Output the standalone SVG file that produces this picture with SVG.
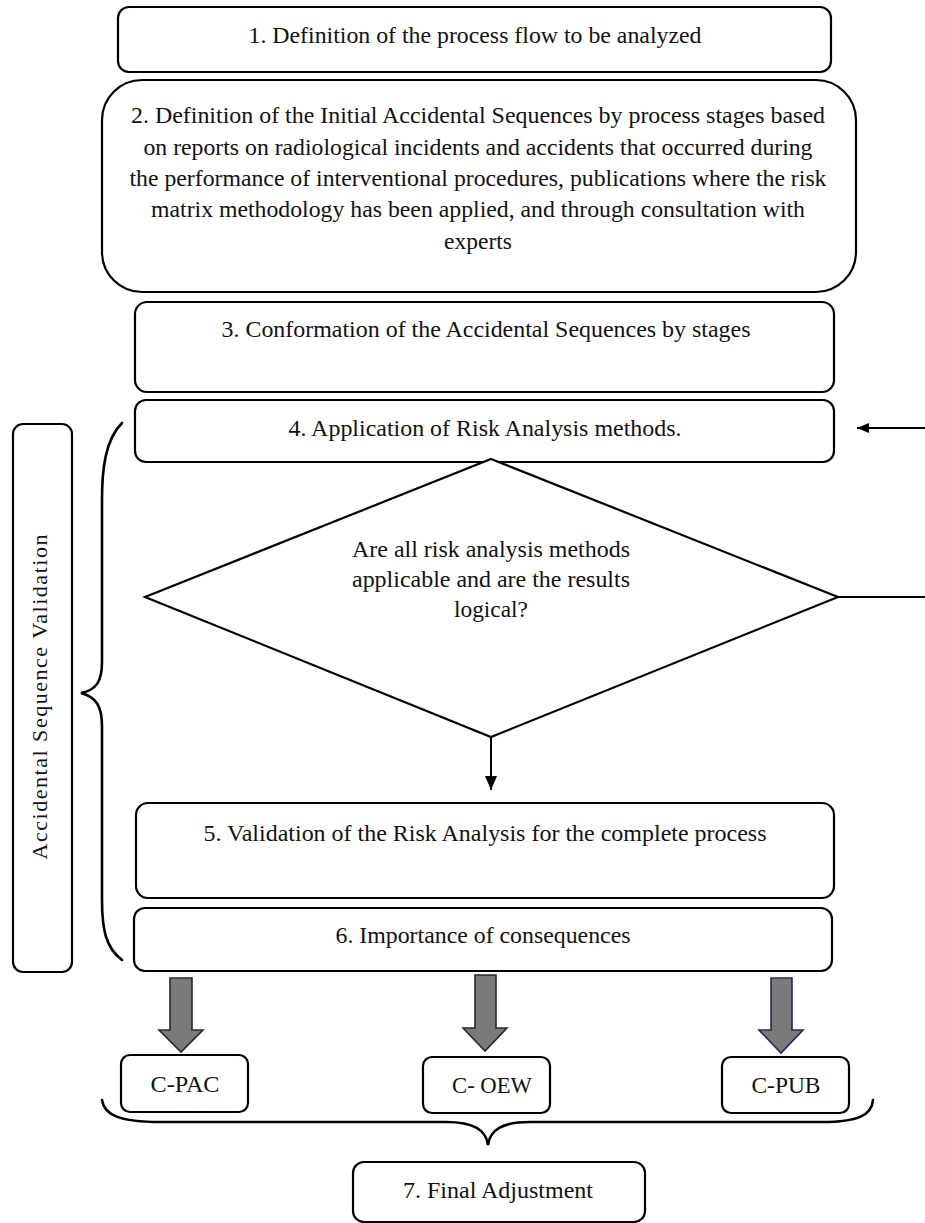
<svg xmlns="http://www.w3.org/2000/svg" width="925" height="1223" viewBox="0 0 925 1223">
<style>
.box{fill:#fff;stroke:#000;stroke-width:2.2}
.t{font-family:"Liberation Serif","Times New Roman",serif;font-size:23.5px;fill:#111;text-anchor:middle}
.conn{fill:none;stroke:#000;stroke-width:2}
.brace{fill:none;stroke:#000;stroke-width:2.6;stroke-linecap:round}
.blk{fill:#7a7a7a;stroke:#2a2a2a;stroke-width:1.6;stroke-linejoin:miter}
</style>
<defs>
<marker id="ah" viewBox="0 0 12 10" refX="12" refY="5" markerWidth="12" markerHeight="10" markerUnits="userSpaceOnUse" orient="auto">
<path d="M0,0 L12,5 L0,10 z" fill="#000"/>
</marker>
<marker id="ah2" viewBox="0 0 14 12" refX="14" refY="6" markerWidth="14" markerHeight="12" markerUnits="userSpaceOnUse" orient="auto">
<path d="M0,0 L14,6 L0,12 z" fill="#000"/>
</marker>
</defs>

<g id="n1"><rect class="box" x="118" y="7" width="713" height="65" rx="11"/>
<text class="t" x="475" y="43" textLength="453" lengthAdjust="spacingAndGlyphs">1. Definition of the process flow to be analyzed</text></g>

<g id="n2"><rect class="box" x="102" y="80" width="754" height="212" rx="40"/>
<text class="t" x="478" y="123" textLength="694" lengthAdjust="spacingAndGlyphs">2. Definition of the Initial Accidental Sequences by process stages based</text>
<text class="t" x="478" y="155" textLength="669" lengthAdjust="spacingAndGlyphs">on reports on radiological incidents and accidents that occurred during</text>
<text class="t" x="478" y="186" textLength="697" lengthAdjust="spacingAndGlyphs">the performance of interventional procedures, publications where the risk</text>
<text class="t" x="478" y="217" textLength="654" lengthAdjust="spacingAndGlyphs">matrix methodology has been applied, and through consultation with</text>
<text class="t" x="478" y="249" textLength="68" lengthAdjust="spacingAndGlyphs">experts</text></g>

<g id="n3"><rect class="box" x="135" y="302" width="699" height="90" rx="12"/>
<text class="t" x="486" y="337" textLength="529" lengthAdjust="spacingAndGlyphs">3. Conformation of the Accidental Sequences by stages</text></g>

<g id="n4"><rect class="box" x="135" y="400" width="699" height="62" rx="11"/>
<text class="t" x="485" y="436" textLength="393" lengthAdjust="spacingAndGlyphs">4. Application of Risk Analysis methods.</text></g>

<g id="d1"><polygon class="box" points="491,459 838,597 491,737 145,597"/>
<text class="t" x="491" y="557" textLength="278" lengthAdjust="spacingAndGlyphs">Are all risk analysis methods</text>
<text class="t" x="491" y="587" textLength="278" lengthAdjust="spacingAndGlyphs">applicable and are the results</text>
<text class="t" x="491" y="617" textLength="74" lengthAdjust="spacingAndGlyphs">logical?</text></g>

<g id="n5"><rect class="box" x="136" y="803" width="698" height="95" rx="12"/>
<text class="t" x="485" y="841" textLength="563" lengthAdjust="spacingAndGlyphs">5. Validation of the Risk Analysis for the complete process</text></g>

<g id="n6"><rect class="box" x="134" y="908" width="698" height="63" rx="11"/>
<text class="t" x="483" y="943" textLength="295" lengthAdjust="spacingAndGlyphs">6. Importance of consequences</text></g>

<g id="label"><rect class="box" x="13" y="424" width="59" height="548" rx="10"/>
<text x="47" y="697" transform="rotate(-90 47 697)" text-anchor="middle" font-family="Liberation Serif, Times New Roman, serif" font-size="22" fill="#111" textLength="325" lengthAdjust="spacing">Accidental Sequence Validation</text></g>

<g id="cpac"><rect class="box" x="121" y="1055" width="127" height="57" rx="9"/>
<text class="t" x="185" y="1092" textLength="69" lengthAdjust="spacingAndGlyphs">C-PAC</text></g>
<g id="coew"><rect class="box" x="423" y="1057" width="127" height="56" rx="9"/>
<text class="t" x="492" y="1093" textLength="80" lengthAdjust="spacingAndGlyphs">C- OEW</text></g>
<g id="cpub"><rect class="box" x="722" y="1057" width="127" height="56" rx="9"/>
<text class="t" x="786" y="1093" textLength="69" lengthAdjust="spacingAndGlyphs">C-PUB</text></g>

<g id="n7"><rect class="box" x="353" y="1162" width="292" height="60" rx="11"/>
<text class="t" x="498" y="1198" textLength="190" lengthAdjust="spacingAndGlyphs">7. Final Adjustment</text></g>

<g id="connectors">
<line class="conn" x1="925" y1="428" x2="857" y2="428" marker-end="url(#ah)"/>
<line class="conn" x1="838" y1="597" x2="925" y2="597"/>
<line class="conn" x1="491" y1="737" x2="491" y2="790" marker-end="url(#ah2)"/>
<path class="brace" d="M122,423 C105,440 102,470 102,500 L102,662 C102,682 96,690 81,693 C96,697 102,706 102,726 L102,900 C102,930 106,948 122,960"/>
<path class="brace" d="M102,1100 C104,1115 120,1122 160,1122 L446,1122 C474,1122 486,1130 488,1145 C490,1130 502,1122 530,1122 L822,1122 C858,1122 872,1115 873,1100"/>
<polygon class="blk" points="170,978 192,978 192,1030 203,1030 181,1052 159,1030 170,1030"/>
<polygon class="blk" points="475,975 496,975 496,1028 507,1028 485,1051 463,1028 475,1028"/>
<polygon class="blk" style="stroke:#1f2858" points="771,978 792,978 792,1030 803,1030 781,1053 759,1030 771,1030"/>
</g>
</svg>
